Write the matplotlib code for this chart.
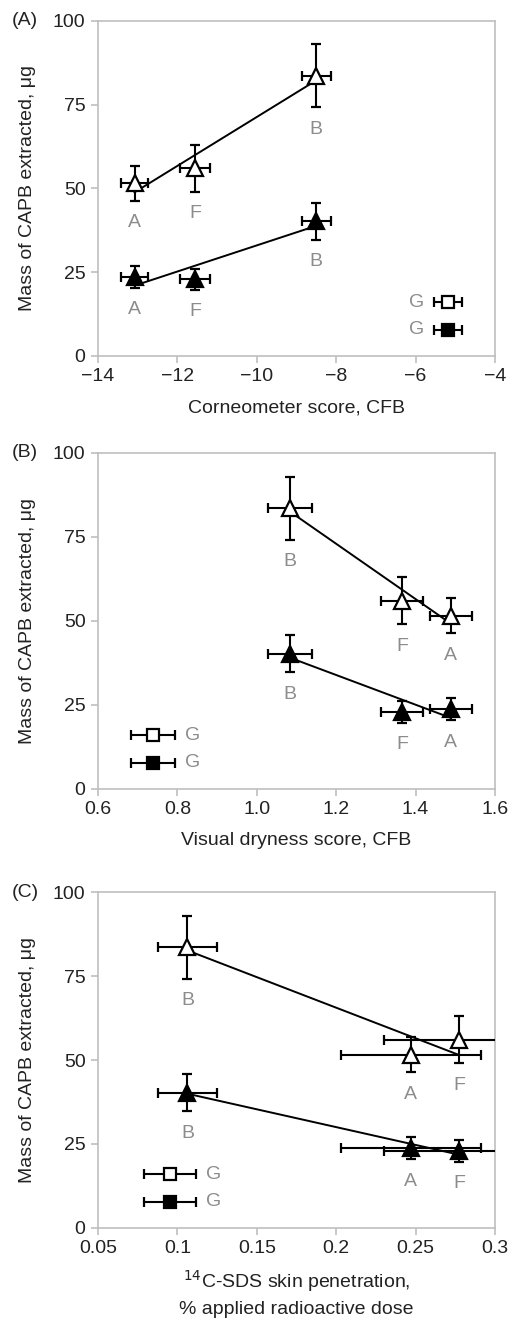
import numpy as np
import matplotlib
matplotlib.use("Agg")
import matplotlib.pyplot as plt

plt.rcParams['font.family'] = ['Liberation Sans', 'DejaVu Sans']

# ---------------- data ----------------
labels = ["A", "F", "B"]
# CAPB mass (y), open = one series, filled = other
open_y = [51.5, 56.0, 83.6]
open_yerr = [5.2, 7.0, 9.4]
filled_y = [23.7, 22.9, 40.2]
filled_yerr = [3.3, 3.2, 5.5]
g_open_y = 16.0
g_filled_y = 7.8

# Panel A: Corneometer score
corneo_x = [-13.08, -11.56, -8.5]
corneo_xerr = [0.34, 0.37, 0.37]
corneo_g = -5.18
corneo_gerr = 0.36

# Panel B: visual dryness
dry_x = [1.489, 1.366, 1.083]
dry_xerr = [0.054, 0.053, 0.055]
dry_g = 0.739
dry_gerr = 0.055

# Panel C: 14C-SDS penetration
sds_x = [0.247, 0.2775, 0.1063]
sds_xerr = [0.044, 0.0475, 0.0184]
sds_g = 0.0952
sds_gerr = 0.0163

panels = [
    dict(tag="(A)", x=corneo_x, xerr=corneo_xerr, g=corneo_g, gerr=corneo_gerr,
         xlim=(-14, -4), xticks=[-14, -12, -10, -8, -6, -4],
         xticklabels=["\u221214", "\u221212", "\u221210", "\u22128", "\u22126", "\u22124"],
         xlabel="Corneometer score, CFB", gside="left", lp=10,
         rect=[0.1918, 0.7299, 0.7769, 0.2542]),
    dict(tag="(B)", x=dry_x, xerr=dry_xerr, g=dry_g, gerr=dry_gerr,
         xlim=(0.6, 1.6), xticks=[0.6, 0.8, 1.0, 1.2, 1.4, 1.6],
         xticklabels=["0.6", "0.8", "1.0", "1.2", "1.4", "1.6"],
         xlabel="Visual dryness score, CFB", gside="right", lp=10,
         rect=[0.1918, 0.4014, 0.7769, 0.2549]),
    dict(tag="(C)", x=sds_x, xerr=sds_xerr, g=sds_g, gerr=sds_gerr,
         xlim=(0.05, 0.3), xticks=[0.05, 0.1, 0.15, 0.2, 0.25, 0.3],
         xticklabels=["0.05", "0.1", "0.15", "0.2", "0.25", "0.3"],
         xlabel="$^{14}$C-SDS skin penetration,\n% applied radioactive dose", gside="right", lp=8,
         rect=[0.1918, 0.0683, 0.7769, 0.2549]),
]

W, H = 511, 1318
fig = plt.figure(figsize=(W / 100, H / 100), dpi=100)

spine_c = "#bfbfbf"
label_c = "#8c8c8c"
txt_c = "#222222"
fs = 14

for p in panels:
    ax = fig.add_axes(p["rect"])
    x = np.array(p["x"])
    # regression lines
    for ys in (open_y, filled_y):
        coef = np.polyfit(x, ys, 1)
        xs = np.array([x.min(), x.max()])
        ax.plot(xs, np.polyval(coef, xs), color="black", lw=1.4, zorder=2)
    # error bars and markers
    kw = dict(ecolor="black", elinewidth=1.5, capsize=3.8, capthick=1.5, zorder=3, mec="black", mew=1.6)
    ax.errorbar(x, open_y, xerr=p["xerr"], yerr=open_yerr, fmt="^", ms=12, mfc="white", **kw)
    ax.errorbar(x, filled_y, xerr=p["xerr"], yerr=filled_yerr, fmt="^", ms=12, mfc="black", **kw)
    # G points
    ax.errorbar([p["g"]], [g_open_y], xerr=[p["gerr"]], fmt="s", ms=9, mfc="white", **kw)
    ax.errorbar([p["g"]], [g_filled_y], xerr=[p["gerr"]], fmt="s", ms=9, mfc="black", **kw)
    # letter labels
    for xi, yi, ei, lab in zip(x, open_y, open_yerr, labels):
        ax.text(xi, yi - ei - 6.5, lab, ha="center", va="center", color=label_c, fontsize=fs)
    for xi, yi, ei, lab in zip(x, filled_y, filled_yerr, labels):
        ax.text(xi, yi - ei - 6.5, lab, ha="center", va="center", color=label_c, fontsize=fs)
    span = p["xlim"][1] - p["xlim"][0]
    for gy in (g_open_y, g_filled_y):
        if p["gside"] == "left":
            ax.text(p["g"] - p["gerr"] - 0.025 * span, gy, "G", ha="right", va="center",
                    color=label_c, fontsize=fs)
        else:
            ax.text(p["g"] + p["gerr"] + 0.025 * span, gy, "G", ha="left", va="center",
                    color=label_c, fontsize=fs)

    ax.set_xlim(*p["xlim"])
    ax.set_ylim(0, 100)
    ax.set_xticks(p["xticks"])
    ax.set_xticklabels(p["xticklabels"])
    ax.set_yticks([0, 25, 50, 75, 100])
    for s in ax.spines.values():
        s.set_color(spine_c)
        s.set_linewidth(1.2)
    ax.tick_params(axis="both", direction="out", length=5, width=1.2, color=spine_c,
                   labelsize=fs, labelcolor=txt_c, pad=4)
    ax.set_xlabel(p["xlabel"], fontsize=fs, color=txt_c, labelpad=p["lp"], linespacing=1.5)
    ax.set_ylabel("Mass of CAPB extracted, \u03bcg", fontsize=fs, color=txt_c, labelpad=12)
    ax.text(-0.217, 1.0, p["tag"], transform=ax.transAxes, fontsize=fs, color=txt_c,
            ha="left", va="center")

fig.savefig("out.png", dpi=100)
